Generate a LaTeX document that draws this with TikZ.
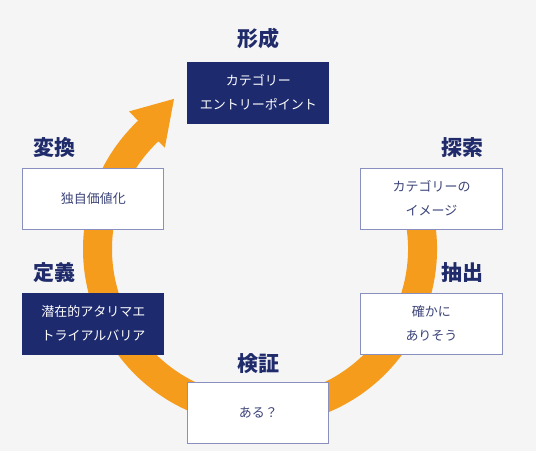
\documentclass[tikz,border=0pt]{standalone}
\usepackage{fontspec}
\setmainfont{Noto Sans CJK JP}
\usetikzlibrary{positioning, calc}
\definecolor{cBack}{HTML}{F5F5F5}
\definecolor{cNavy}{HTML}{1D2A6E}
\definecolor{cOrange}{HTML}{F59C1D}
\definecolor{cFrame}{HTML}{8990C0}
\definecolor{cText}{HTML}{3C4479}
\definecolor{cLabel}{HTML}{1F2B6B}

\begin{document}
\begin{tikzpicture}[x=1pt, y=1pt,
  wbox/.style={draw=cFrame, fill=white, line width=1pt,
    minimum width=141pt, minimum height=61pt, align=center,
    text=cText, font=\fontsize{13}{24}\selectfont},
  dbox/.style={wbox, draw=cNavy, fill=cNavy, text=white},
  lbl/.style={font=\fontsize{21}{21}\selectfont\bfseries, text=cLabel,
    inner sep=0pt},
  ring/.style={draw=cOrange, line width=29pt}
]

  % canvas
  \fill[cBack] (-260, -202) rectangle (276, 249);
  \useasboundingbox (-260, -202) rectangle (276, 249);

  % cycle
  \draw[ring] (20:162.5) arc[start angle=20, end angle=-228, radius=162.5];
  \fill[cOrange] (133.6:190) -- (119.8:173) -- (133.2:139) -- cycle;

  \node[dbox] (form) at (-1.5, 156.5) {カテゴリー\\エントリーポイント};
  \node[lbl, above=12pt of form] {形成};

  \node[wbox] (conv) at (-166.5, 50.5) {独自価値化};
  \node[lbl, above right=10pt and 11pt of conv.north west] {変換};

  \node[wbox] (expl) at (171.5, 50.5) {カテゴリーの\\イメージ};
  \node[lbl, above left=10pt and 19pt of expl.north east] {探索};

  \node[dbox] (defn) at (-166.5, -74.5) {潜在的アタリマエ\\トライアルバリア};
  \node[lbl, above right=10pt and 11pt of defn.north west] {定義};

  \node[wbox] (extr) at (171.5, -74.5) {確かに\\ありそう};
  \node[lbl, above left=10pt and 19pt of extr.north east] {抽出};

  \node[wbox] (veri) at (-1.5, -163.5) {ある？};
  \node[lbl, above=8pt of veri] {検証};

\end{tikzpicture}
\end{document}
